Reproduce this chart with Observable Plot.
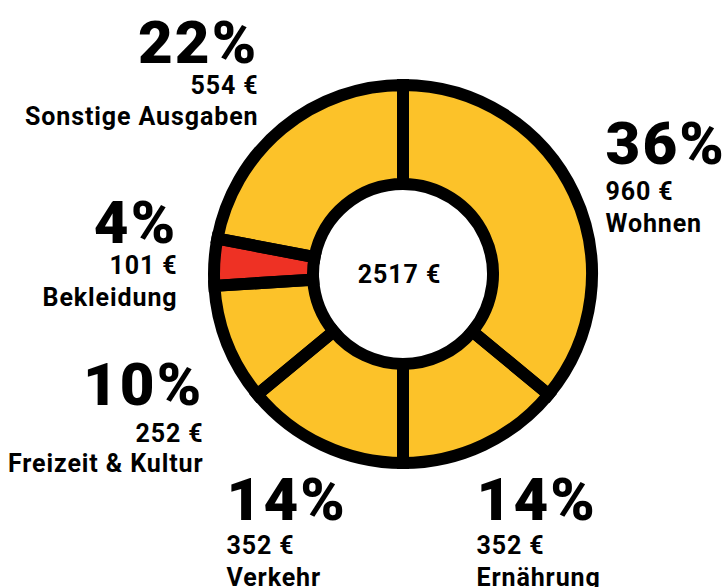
<!DOCTYPE html>
<html><head><meta charset="utf-8">
<script src="https://cdn.jsdelivr.net/npm/d3@7"></script>
<script src="https://cdn.jsdelivr.net/npm/@observablehq/plot@0.6"></script>
<style>
body{margin:0;background:#fff;}
#chart svg{font-family:Roboto, "Noto Sans", sans-serif;}
#chart svg text{letter-spacing:0.036em;}
</style>
</head><body><div id="chart"></div>
<script>
// ---- data ----
const categories = ["Wohnen", "Ernährung", "Verkehr", "Freizeit & Kultur", "Bekleidung", "Sonstige Ausgaben"];
const percents = [36, 14, 14, 10, 4, 22];
const amounts = [960, 352, 352, 252, 101, 554];
const highlighted = ["Bekleidung"];
const totalAmount = 2517;

// ---- layout (label anchors and baselines, pixels) ----
const labelLayout = [
  {x: 605, y: [163, 199, 231], anchor: "start"},
  {x: 476, y: [519, 553, 585], anchor: "start"},
  {x: 226, y: [519, 553, 585], anchor: "start"},
  {x: 203, y: [404, 441, 471], anchor: "end"},
  {x: 177, y: [242, 273, 305], anchor: "end"},
  {x: 258, y: [62, 93, 124], anchor: "end"}
];
const W = 726, H = 587;
const center = {x: 403, y: 274};
const rInner = 90, rOuter = 189;
const yellow = "#fcc229", red = "#ee3124";

const rows = categories.map((c, i) => ({
  category: c, pct: percents[i], amount: amounts[i],
  x: labelLayout[i].x, y0: labelLayout[i].y[0], y1: labelLayout[i].y[1], y2: labelLayout[i].y[2],
  anchor: labelLayout[i].anchor
}));

function donut(...args) {
  const scales = args.find(a => a && typeof a.x === "function");
  const cx = scales.x(center.x), cy = scales.y(center.y);
  const pie = d3.pie().value(d => d.pct).sort(null)(rows);
  const arc = d3.arc().innerRadius(rInner).outerRadius(rOuter);
  const g = d3.create("svg:g").attr("transform", `translate(${cx},${cy})`);
  g.append("g").selectAll("path").data(pie).join("path")
    .attr("d", arc)
    .attr("fill", d => highlighted.includes(d.data.category) ? red : yellow);
  g.append("g").selectAll("path").data(pie).join("path")
    .attr("d", arc)
    .attr("fill", "none")
    .attr("stroke", "#000")
    .attr("stroke-width", 12)
    .attr("stroke-linejoin", "miter");
  return g.node();
}

const rowsStart = rows.filter(d => d.anchor === "start");
const rowsEnd = rows.filter(d => d.anchor === "end");

function labelMarks(data, anchor) {
  return [
    Plot.text(data, {x: "x", y: "y0", text: d => `${d.pct}%`, textAnchor: anchor, lineAnchor: "bottom",
      fontSize: 60, fontWeight: 900, fill: "#000"}),
    Plot.text(data, {x: "x", y: "y1", text: d => `${d.amount} €`, textAnchor: anchor, lineAnchor: "bottom",
      fontSize: 25, fontWeight: 700, fill: "#000"}),
    Plot.text(data, {x: "x", y: "y2", text: d => d.category, textAnchor: anchor, lineAnchor: "bottom",
      fontSize: 25, fontWeight: 700, fill: "#000"})
  ];
}

const chart = Plot.plot({
  width: W, height: H,
  margin: 0,
  x: {domain: [0, W], range: [0, W], axis: null},
  y: {domain: [0, H], range: [0, H], axis: null},
  marks: [
    donut,
    Plot.text([{x: center.x - 4, y: center.y, t: `${totalAmount} €`}], {x: "x", y: "y", text: "t",
      fontSize: 25, fontWeight: 700, fill: "#000", lineAnchor: "middle"}),
    ...labelMarks(rowsStart, "start"),
    ...labelMarks(rowsEnd, "end")
  ]
});
document.getElementById("chart").appendChild(chart);
</script>
</body></html>
